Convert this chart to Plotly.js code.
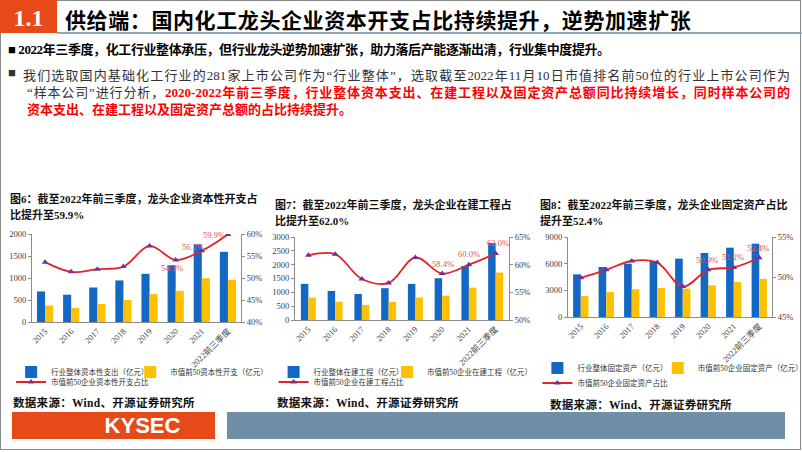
<!DOCTYPE html>
<html>
<head>
<meta charset="utf-8">
<script src="https://cdn.plot.ly/plotly-3.0.1.min.js"></script>
<style>
  body { margin:0; width:802px; height:452px; overflow:hidden; background:#fff;
         font-family:"Liberation Serif","Times New Roman","Noto Sans CJK SC",serif; }
  .abs { position:absolute; }
  #frame { left:0; top:0; width:801px; height:450px; border:1px solid #8a8a8a; box-sizing:border-box; }
  #secNo { left:0; top:0; width:57px; height:33px; background:#E64A19; color:#fff; font-weight:bold;
           font-size:24px; line-height:36px; text-align:center; }
  #secLine { left:57px; top:32px; width:745px; height:2px; background:#8FA5B8; }
  #secTitle { left:65px; top:4px; font-size:21px; font-weight:bold; color:#000; letter-spacing:0.6px; white-space:nowrap; }
  .bul { font-size:13px; white-space:nowrap; }
  .just { font-size:13px; white-space:nowrap; text-align:justify; text-align-last:justify; text-justify:inter-character; color:#333; }
  .red { color:#FF0000; font-weight:bold; }
  .ctitle { font-size:11px; font-weight:bold; color:#111; line-height:16px; letter-spacing:0; white-space:nowrap; }
  .src { font-size:11.5px; font-weight:bold; color:#111; white-space:nowrap; letter-spacing:0.3px; }
  #logo { left:12px; top:412px; width:203px; height:27px; background:#E64A19; color:#fff;
          font-family:"Liberation Sans",Arial,sans-serif; font-weight:bold; font-size:22px; line-height:28px; text-align:center; padding-left:58px; box-sizing:border-box; }
  #band { left:227px; top:412px; width:558px; height:27px; background:#6E8FA6; }
</style>
</head>
<body>
<div id="frame" class="abs"></div>
<div id="secNo" class="abs">1.1</div>
<div id="secLine" class="abs"></div>
<div id="secTitle" class="abs">供给端：国内化工龙头企业资本开支占比持续提升，逆势加速扩张</div>

<div class="abs bul" style="left:8px;top:39px;font-weight:bold;color:#000;letter-spacing:-0.4px;">■ 2022年三季度，化工行业整体承压，但行业龙头逆势加速扩张，助力落后产能逐渐出清，行业集中度提升。</div>
<div class="abs bul" style="left:8px;top:65px;color:#333;">■</div>
<div class="abs just" style="left:23px;top:65px;width:767px;">我们选取国内基础化工行业的281家上市公司作为“行业整体”，选取截至2022年11月10日市值排名前50位的行业上市公司作为</div>
<div class="abs just" style="left:27px;top:82px;width:763px;">“样本公司”进行分析，<span class="red">2020-2022年前三季度，行业整体资本支出、在建工程以及固定资产总额同比持续增长，同时样本公司的</span></div>
<div class="abs bul" style="left:27px;top:99px;"><span class="red">资本支出、在建工程以及固定资产总额的占比持续提升。</span></div>

<div class="abs ctitle" style="left:10px;top:191px;">图6：截至2022年前三季度，龙头企业资本性开支占<br>比提升至59.9%</div>
<div class="abs ctitle" style="left:275px;top:197px;">图7：截至2022年前三季度，龙头企业在建工程占<br>比提升至62.0%</div>
<div class="abs ctitle" style="left:540px;top:197px;">图8：截至2022年前三季度，龙头企业固定资产占比<br>提升至52.4%</div>

<div id="c1" class="abs" style="left:0;top:226px;width:270px;height:170px;"></div>
<div id="c2" class="abs" style="left:270px;top:226px;width:270px;height:170px;"></div>
<div id="c3" class="abs" style="left:535px;top:226px;width:267px;height:170px;"></div>

<div class="abs src" style="left:13px;top:394px;">数据来源：Wind、开源证券研究所</div>
<div class="abs src" style="left:277px;top:394px;">数据来源：Wind、开源证券研究所</div>
<div class="abs src" style="left:550px;top:396px;">数据来源：Wind、开源证券研究所</div>

<div id="logo" class="abs">KYSEC</div>
<div id="band" class="abs"></div>

<script>
"use strict"

const years = ['2015','2016','2017','2018','2019','2020','2021','2022前三季度'];

// 图6 资本性开支
const capexAll   = [695, 620, 785, 945, 1095, 1290, 1765, 1595];
const capexTop50 = [375, 318, 410, 500, 635, 710, 995, 960];
const capexShare = [53.6, 51.4, 52.0, 52.6, 57.3, 54.1, 56.2, 59.9];

// 图7 在建工程
const cipAll   = [1305, 1050, 940, 1150, 1305, 1510, 1950, 2780];
const cipTop50 = [810, 655, 545, 655, 810, 880, 1170, 1715];
const cipShare = [61.7, 61.9, 57.4, 56.7, 61.3, 58.4, 60.0, 62.0];

// 图8 固定资产
const faAll   = [4800, 5625, 6000, 6300, 6570, 7200, 7800, 8250];
const faTop50 = [2360, 2810, 3115, 3260, 3190, 3560, 3940, 4280];
const faShare = [49.9, 50.9, 52.0, 51.8, 48.8, 50.9, 51.2, 52.4];

const FONT = '"Liberation Serif","Times New Roman","Noto Sans CJK SC",serif';
const BLUE = '#1368C4', GOLD = '#FFC000', RED = '#E3222B', PURPLE = '#7030A0';

function buildChart(el, opt){
	let traces = [
		{type:'bar', x:years, y:opt.all, name:opt.names[0], marker:{color:BLUE}, legend:'legend'},
		{type:'bar', x:years, y:opt.top, name:opt.names[1], marker:{color:GOLD}, legend:'legend2'},
		{type:'scatter', mode:'lines+markers', x:years, y:opt.share, yaxis:'y2', name:opt.names[2],
		 line:{color:RED, width:1.8, shape:'spline', smoothing:1},
		 marker:{symbol:'triangle-up', size:6, color:PURPLE}, legend:'legend3'}
	];

	// labels on the last three points; x given as category index (a '2020' string would be read as a number)
	let annotations = [];
	for(let i=5;i<years.length;i++){
		let s = opt.shifts[i-5];
		annotations.push({
			x: i, y: opt.share[i], xref:'x', yref:'y2',
			text: opt.share[i].toFixed(1) + '%', showarrow:false,
			xshift: s[0], yshift: s[1],
			font:{family:FONT, size:8.5, color:'#F0504A'}
		});
	}

	let axisBase = {
		showline:true, linecolor:'#8c8c8c', linewidth:1, ticks:'outside', ticklen:3,
		tickcolor:'#8c8c8c', showgrid:false, zeroline:false,
		tickfont:{family:FONT, size:8.5, color:'#404040'}
	};

	// one legend per entry so each can sit where the reference has it
	let legendOf = (x, y) => ({
		orientation:'h', x:x, y:y, xanchor:'left', yanchor:'middle', itemwidth:30,
		bgcolor:'rgba(0,0,0,0)', font:{family:FONT, size:7.5, color:'#333'}
	});

	let layout = {
		width: opt.w, height: 170,
		margin:{l:opt.m[0], r:opt.m[1], t:opt.m[2], b:opt.m[3], pad:0, autoexpand:false},
		paper_bgcolor:'rgba(0,0,0,0)', plot_bgcolor:'rgba(0,0,0,0)',
		barmode:'group', bargap:opt.gap, bargroupgap:0,
		xaxis: Object.assign({}, axisBase, {tickangle:-45, ticks:'', type:'category', range:[-0.5, years.length-0.5]}),
		yaxis: Object.assign({}, axisBase, {range:opt.yr, dtick:opt.dtick}),
		yaxis2: Object.assign({}, axisBase, {overlaying:'y', side:'right', range:opt.pr, dtick:5, ticksuffix:'%'}),
		showlegend:true,
		legend: legendOf(opt.lx[0], opt.ly[0]),
		legend2: legendOf(opt.lx[1], opt.ly[0]),
		legend3: legendOf(opt.lx[0], opt.ly[1]),
		annotations: annotations
	};

	Plotly.newPlot(el, traces, layout, {staticPlot:true, displayModeBar:false});
}

buildChart('c1', {
	all:capexAll, top:capexTop50, share:capexShare, w:270,
	names:['行业整体资本性支出（亿元）','市值前50资本性开支（亿元）','市值前50企业资本性开支占比'],
	m:[32,29,8,74], yr:[0,2000], dtick:500, pr:[40,60], gap:0.38,
	lx:[-0.1, 0.47], ly:[-0.568,-0.682],
	shifts:[[-4,-8],[-9,4],[-14,-1]]
});

buildChart('c2', {
	all:cipAll, top:cipTop50, share:cipShare, w:270,
	names:['行业整体在建工程（亿元）','市值前50企业在建工程（亿元）','市值前50企业在建工程占比'],
	m:[25,31,11,76], yr:[0,3000], dtick:500, pr:[50,65], gap:0.44,
	lx:[-0.1, 0.43], ly:[-0.627,-0.747],
	shifts:[[1,10],[0,11],[2,11]]
});

buildChart('c3', {
	all:faAll, top:faTop50, share:faShare, w:267,
	names:['行业整体固定资产（亿元）','市值前50企业固定资产（亿元）','市值前50企业固定资产占比'],
	m:[33,30,11,79], yr:[0,9000], dtick:3000, pr:[45,55], gap:0.4,
	lx:[-0.15, 0.44], ly:[-0.6375,-0.825],
	shifts:[[-1,10],[-1,10],[-1,10]]
});
</script>
</body>
</html>
